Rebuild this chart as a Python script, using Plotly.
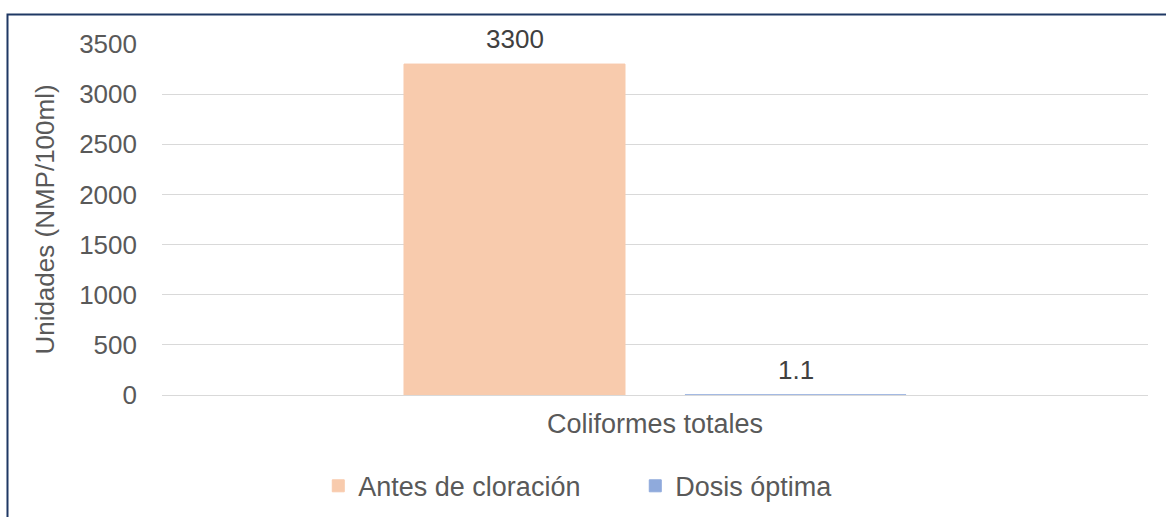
import plotly.graph_objects as go

categoria = ["Coliformes totales"]
antes = [3300]
dosis = [1.1]
series_names = ["Antes de cloración", "Dosis óptima"]
colores = ["#F8CBAD", "#8FAADC"]

FONT = "Liberation Sans, Arial, sans-serif"

fig = go.Figure()
for name, vals, col in zip(series_names, [antes, dosis], colores):
    fig.add_trace(go.Bar(x=categoria, y=vals, name=name, marker_color=col,
                         marker_line=dict(color=col, width=1)))

# data labels above each bar
offsets = [-140.5, 140.5]
annots = []
for vals, dx in zip([antes, dosis], offsets):
    for c, v in zip(categoria, vals):
        annots.append(dict(x=c, y=v, text=str(v), showarrow=False, xshift=dx, yshift=25,
                           yanchor="middle", font=dict(size=26, color="#404040", family=FONT)))

fig.update_layout(
    width=1166, height=517,
    margin=dict(l=162, r=18, t=44, b=122, autoexpand=False),
    paper_bgcolor="white", plot_bgcolor="white",
    barmode="group", bargap=0.43, bargroupgap=0.2135,
    font=dict(family=FONT, size=26, color="#595959"),
    showlegend=True,
    legend=dict(orientation="h", x=0.48, xanchor="center", y=-0.26, yanchor="middle",
                font=dict(size=27, color="#595959"), traceorder="normal",
                entrywidth=272, entrywidthmode="pixels"),
    annotations=annots,
    shapes=[dict(type="rect", xref="paper", yref="paper",
                 x0=-0.1567, x1=1.1, y0=-0.5, y1=1.0838,
                 line=dict(color="#1F3864", width=2), fillcolor="rgba(0,0,0,0)")],
)
fig.update_yaxes(range=[0, 3500], dtick=500, gridcolor="#D9D9D9", gridwidth=1,
                 zeroline=False, showline=False, ticks="", ticklabelstandoff=24,
                 title=dict(text="Unidades (NMP/100ml)", font=dict(size=26, color="#595959"),
                            standoff=17),
                 tickfont=dict(size=26, color="#595959"))
fig.update_xaxes(showline=True, linecolor="#D9D9D9", linewidth=1, ticks="",
                 ticklabelstandoff=5, tickfont=dict(size=27, color="#595959"))

fig.write_html("out.html", post_script="document.body.style.margin='0';",
               config={"displayModeBar": False})
